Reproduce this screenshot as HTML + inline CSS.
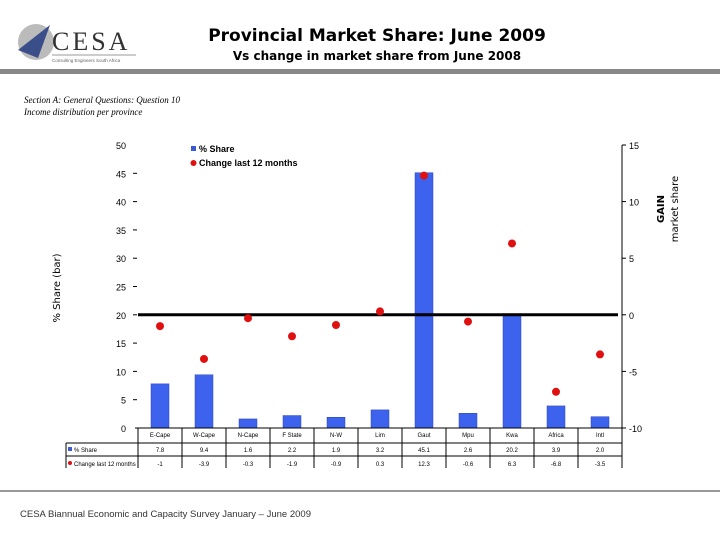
<!DOCTYPE html>
<html><head><meta charset="utf-8">
<style>
body{margin:0;width:720px;height:540px;background:#fff;overflow:hidden;font-family:"Liberation Sans",sans-serif;}
svg{display:block}
</style></head>
<body>
<svg id="chart" width="720" height="540" xmlns="http://www.w3.org/2000/svg">
  <g>
    <circle cx="36" cy="42" r="18" fill="#bbb"/>
    <polygon points="18,50 50,25 38,58" fill="#3a4f8a"/>
    <text x="52" y="50" font-family="Liberation Serif,serif" font-size="26" fill="#333" letter-spacing="3">CESA</text>
    <line x1="52" y1="55" x2="136" y2="55" stroke="#999" stroke-width="1"/>
    <text x="52" y="62" font-size="4.5" fill="#666">Consulting Engineers South Africa</text>
  </g>
  <text x="377" y="41" text-anchor="middle" font-family="DejaVu Sans,sans-serif" font-weight="bold" font-size="17">Provincial Market Share: June 2009</text>
  <text x="377" y="60" text-anchor="middle" font-family="DejaVu Sans,sans-serif" font-weight="bold" font-size="12">Vs change in market share from June 2008</text>
  <rect x="0" y="69" width="720" height="5" fill="#888"/>
  <text x="24" y="103" font-size="9" font-style="italic" font-family="Liberation Serif,serif">Section A: General Questions: Question 10</text>
  <text x="24" y="115" font-size="9" font-style="italic" font-family="Liberation Serif,serif">Income distribution per province</text>
  <text transform="translate(60,288) rotate(-90)" text-anchor="middle" font-size="10" font-family="DejaVu Sans,sans-serif">% Share (bar)</text>
  <text transform="translate(664,209) rotate(-90)" text-anchor="middle" font-size="10" font-weight="bold" font-family="DejaVu Sans,sans-serif">GAIN</text>
  <text transform="translate(678,209) rotate(-90)" text-anchor="middle" font-size="10" font-family="DejaVu Sans,sans-serif">market share</text>
  <g>
    <rect x="191" y="146" width="5" height="5" fill="#3b5bd6"/>
    <text x="199" y="152" font-size="9" font-weight="bold">% Share</text>
    <circle cx="193.5" cy="163" r="3" fill="#e01010"/>
    <text x="199" y="166" font-size="9" font-weight="bold">Change last 12 months</text>
  </g>
  <g id="plot"></g>
  <rect x="0" y="490" width="720" height="2" fill="#999"/>
  <text x="20" y="517" font-size="9.5" fill="#333">CESA Biannual Economic and Capacity Survey January – June 2009</text>
</svg>
<script>
const categories=["E-Cape","W-Cape","N-Cape","F State","N-W","Lim","Gaut","Mpu","Kwa","Africa","Intl"];
const shareValues=[7.8,9.4,1.6,2.2,1.9,3.2,45.1,2.6,20.2,3.9,2.0];
const changeValues=[-1,-3.9,-0.3,-1.9,-0.9,0.3,12.3,-0.6,6.3,-6.8,-3.5];
const leftTicks=[0,5,10,15,20,25,30,35,40,45,50];
const rightTicks=[-10,-5,0,5,10,15];
const NS="http://www.w3.org/2000/svg";
const g=document.getElementById('plot');
const X0=138,BW=44,YT=145,YB=428;
const yL=v=>YB-(v/50)*(YB-YT);
const yR=v=>YB-((v+10)/25)*(YB-YT);
const xC=i=>X0+BW*i+BW/2;
function mk(tag,attrs,txt){const e=document.createElementNS(NS,tag);for(const k in attrs)e.setAttribute(k,attrs[k]);if(txt!==undefined)e.textContent=txt;g.appendChild(e);return e;}
leftTicks.forEach(t=>{
  const tx=mk('text',{x:126,y:yL(t)+4,'text-anchor':'end','font-size':9},String(t));
  
  
  if(t>0&&t<50){const l=mk('line',{x1:133,x2:137,y1:yL(t),y2:yL(t),stroke:'#000'});
  
  }
});
const ra=mk('line',{x1:622,x2:622,y1:YT,y2:468,stroke:'#000'});


rightTicks.forEach(t=>{
  const l=mk('line',{x1:622,x2:626,y1:yR(t),y2:yR(t),stroke:'#000'});
  
  
  const tx=mk('text',{x:629,y:yR(t)+4,'font-size':9},String(t));
  
  
});
shareValues.forEach((v,i)=>{
  const r=mk('rect',{x:xC(i)-9,y:yL(v),width:18,height:YB-yL(v),fill:'#3d63ee',stroke:'#2a44b0','stroke-width':0.5});
  
  
});
const xa=mk('line',{x1:135,x2:622,y1:YB,y2:YB,stroke:'#000'});


const zl=mk('line',{x1:138,x2:618,y1:yR(0),y2:yR(0),stroke:'#000','stroke-width':3});


changeValues.forEach((v,i)=>{
  const c=mk('circle',{cx:xC(i),cy:yR(v),r:4,fill:'#e01010'});
  
  
});
// data table
[443,456].forEach(y=>{const l=mk('line',{x1:66,x2:622,y1:y,y2:y,stroke:'#000'});

});
const lv=mk('line',{x1:66,x2:66,y1:443,y2:468,stroke:'#000'});


categories.forEach((c,i)=>{
  const l=mk('line',{x1:X0+BW*i,x2:X0+BW*i,y1:428,y2:468,stroke:'#000'});
  
  
  const t=mk('text',{x:xC(i),y:437,'text-anchor':'middle','font-size':6},c);
  
  
  const a=mk('text',{x:xC(i),y:452,'text-anchor':'middle','font-size':6},shareValues[i].toFixed(1));
  
  
  const b=mk('text',{x:xC(i),y:466,'text-anchor':'middle','font-size':6},String(changeValues[i]));
  
  
});
const r1=mk('rect',{x:68,y:447,width:4,height:4,fill:'#3b5bd6'});


const t1=mk('text',{x:74,y:452,'font-size':6},'% Share');


const c1=mk('circle',{cx:70,cy:463,r:2,fill:'#e01010'});


const t2=mk('text',{x:74,y:466,'font-size':6},'Change last 12 months');


</script>
</body></html>
